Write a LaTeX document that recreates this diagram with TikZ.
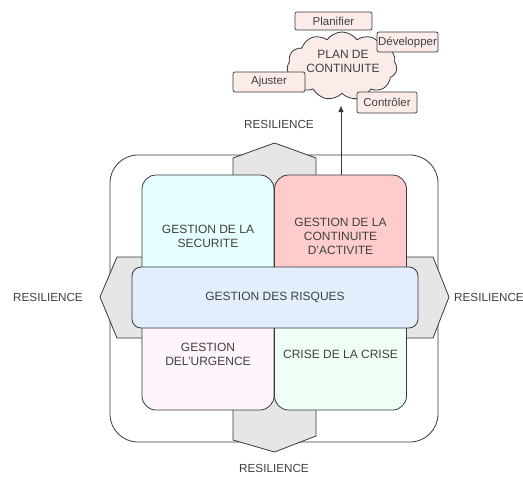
\documentclass[tikz,border=0pt]{standalone}
\usepackage{fontspec}
\setmainfont{Liberation Sans}
\usetikzlibrary{shapes.symbols,arrows.meta}
\definecolor{strk}{HTML}{36393D}
\definecolor{txt}{HTML}{404040}
\definecolor{hexfill}{HTML}{E6E6E6}
\definecolor{cyanf}{HTML}{E6FFFF}
\definecolor{redf}{HTML}{FFCCCC}
\definecolor{bluef}{HTML}{E3EEFD}
\definecolor{pinkf}{HTML}{FFF4FC}
\definecolor{mintf}{HTML}{F0FFF6}
\definecolor{smallf}{HTML}{FCECE9}
\tikzset{
  every node/.style={text=txt, font=\fontsize{12}{14}\selectfont, align=center},
  quad/.style={draw=strk, line width=0.8pt, rounded corners=14pt, minimum width=132pt, minimum height=122pt, inner sep=0pt},
  tag/.style={draw=strk, line width=0.7pt, fill=smallf, rounded corners=2pt, inner sep=0pt, font=\fontsize{11.5}{13.5}\selectfont},
  hexa/.style={draw=strk, line width=0.8pt, fill=hexfill},
  resil/.style={font=\fontsize{11.7}{13.5}\selectfont},
}
\begin{document}
\begin{tikzpicture}[x=1pt,y=-1pt]
\useasboundingbox (0,0) rectangle (523,477);
% outer frame
\draw[strk, line width=0.8pt, rounded corners=28pt] (110,155) rectangle (438,442);
% hexagons
\draw[hexa] (233,440) -- (233,158) -- (274.5,143) -- (316,158) -- (316,436) -- (274.5,452) -- cycle;
\draw[hexa] (117,257) -- (433,257) -- (449,297) -- (433,338) -- (117,338) -- (100,297) -- cycle;
% quadrants
\node[quad, fill=cyanf] (sec) at (208,236) {GESTION DE LA\\SECURITE};
\node[quad, fill=redf] (cont) at (340.5,236) {GESTION DE LA\\CONTINUITE\\D'ACTIVITE};
\node[quad, fill=pinkf, minimum height=112pt] (urg) at (208,354) {GESTION\\DEL'URGENCE};
\node[quad, fill=mintf, minimum height=112pt] (crise) at (340.5,354) {CRISE DE LA CRISE};
\node[quad, fill=bluef, rounded corners=9pt, minimum width=286pt, minimum height=61pt] (risk) at (275,297.5) {GESTION DES RISQUES};
% resilience labels
\node[resil] (rt) at (279,124) {RESILIENCE};
\node[resil] (rl) at (48,297) {RESILIENCE};
\node[resil] (rr) at (489,297) {RESILIENCE};
\node[resil] (rb) at (274,468) {RESILIENCE};
% cloud
\node[cloud, draw=strk, line width=0.8pt, fill=smallf, cloud puffs=11, cloud puff arc=110, aspect=1.6, minimum width=110pt, minimum height=68pt, inner sep=0pt] (plan) at (342,66) {};
\node (plantxt) at (343,61) {PLAN DE\\CONTINUITE};
% small tags
\node[tag, minimum width=77pt, minimum height=18pt] (pl) at (333.5,21) {Planifier};
\node[tag, minimum width=61pt, minimum height=20pt] (dv) at (407.5,42) {Développer};
\node[tag, minimum width=72pt, minimum height=20pt] (aj) at (269,82) {Ajuster};
\node[tag, minimum width=60pt, minimum height=21pt] (ct) at (387,102.5) {Contrôler};
% arrow
\coordinate (a0) at (341,175);
\coordinate (a1) at (341,106);
\draw[strk, line width=0.8pt, -{Triangle[length=6pt,width=5pt]}] (a0) -- (a1);
\end{tikzpicture}
\end{document}
